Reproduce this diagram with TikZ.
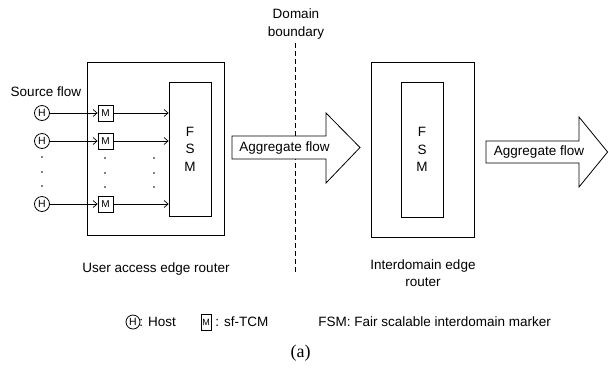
\documentclass[tikz,border=0pt]{standalone}
\usepackage{fontspec}
\setmainfont{Liberation Sans}
\newfontfamily\captionfont{Liberation Serif}
\usetikzlibrary{arrows.meta}
\begin{document}
\begin{tikzpicture}[x=1pt,y=-1pt,line width=0.8pt,
  every node/.style={font=\fontsize{13.5}{16}\selectfont,inner sep=0pt},
  host/.style={draw,circle,minimum size=15pt,font=\fontsize{10.5}{12}\selectfont},
  marker/.style={draw,rectangle,minimum width=15pt,minimum height=16pt,font=\fontsize{10}{12}\selectfont},
  flow/.style={-{Straight Barb[length=4pt,width=7pt]},line width=0.7pt},
  dot/.style={circle,fill,inner sep=0pt,minimum size=1.6pt},
  bigarrow/.style={draw,fill=white,line width=0.8pt},
  fsmtext/.style={align=center,font=\fontsize{13.5}{17.5}\selectfont}]
\useasboundingbox (0,0) rectangle (609,376);

% user access edge router
\node[draw,minimum width=137pt,minimum height=173pt] (ua) at (155.5,148.5) {};
\node[draw,minimum width=42pt,minimum height=134pt] (fsm1) at (190,149) {};
\node[fsmtext] at (fsm1.center) {F\\S\\M};
\node (ualabel) at (156,269) {User access edge router};
\node (src) at (46,92) {Source flow};

% hosts and markers
\node[host] (h1) at (42,113) {H};
\node[host] (h2) at (42,141) {H};
\node[host] (h3) at (42,204) {H};
\node[marker] (m1) at (105.5,113) {M};
\node[marker] (m2) at (105.5,141) {M};
\node[marker] (m3) at (105.5,204) {M};
\foreach \i in {1,2,3}{
  \draw[flow] (h\i) -- (m\i);
  \draw[flow] (m\i) -- (m\i -| fsm1.west);
}
\foreach \y in {157,172,186}{
  \node[dot] (dh\y) at (42,\y) {};
  \node[dot] (dm\y) at (105,\y+1) {};
  \node[dot] (df\y) at (154,\y+1) {};
}

% domain boundary
\coordinate (dbtop) at (295,43);
\coordinate (dbbot) at (295,272);
\draw[dash pattern=on 5pt off 3pt,line width=0.7pt] (dbtop) -- (dbbot);
\node[align=center,font=\fontsize{13.5}{18}\selectfont] (dblabel) at (296,24) {Domain\\boundary};

% aggregate flow into the interdomain router
\draw[bigarrow] (232,136) -- (326,136) -- (326,113) -- (360,147.5)
  -- (326,183) -- (326,159) -- (232,159) -- cycle;
\node (agg1) at (284.5,148) {Aggregate flow};

% interdomain edge router
\node[draw,minimum width=103pt,minimum height=175pt] (idr) at (422.5,149.5) {};
\node[draw,minimum width=42pt,minimum height=135pt] (fsm2) at (422,149.5) {};
\node[fsmtext] at (fsm2.center) {F\\S\\M};
\node[align=center,font=\fontsize{13.5}{17}\selectfont] (idlabel) at (423,273.5) {Interdomain edge\\router};

% aggregate flow leaving
\draw[bigarrow] (486,141) -- (579,141) -- (579,117) -- (607.6,152)
  -- (579,187) -- (579,163) -- (486,163) -- cycle;
\node (agg2) at (539,152) {Aggregate flow};

% legend
\node[host,minimum size=14pt] (lh) at (133,322) {H};
\node[anchor=west] (lhtext) at (139,322) {: Host};
\node[draw,minimum width=10pt,minimum height=16pt,font=\fontsize{9}{11}\selectfont] (lm) at (206,322) {M};
\node[anchor=west] (lmtext) at (215,322) {: sf-TCM};
\node[anchor=west] (lfsm) at (318,322) {FSM: Fair scalable interdomain marker};

\node[font=\captionfont\fontsize{18}{20}\selectfont] (cap) at (300.5,353) {(a)};
\end{tikzpicture}
\end{document}
